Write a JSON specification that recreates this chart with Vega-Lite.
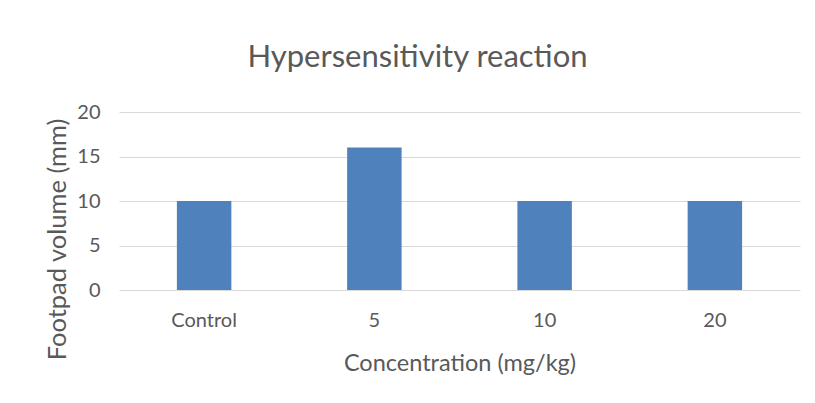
{
  "$schema": "https://vega.github.io/schema/vega-lite/v6.json",
  "autosize": "none",
  "width": 681,
  "height": 178,
  "padding": {"left": 119, "top": 112, "right": 15, "bottom": 113},
  "background": "white",
  "title": {
    "text": "Hypersensitivity reaction",
    "font": "Lato",
    "fontSize": 31,
    "fontWeight": "normal",
    "color": "#595959",
    "anchor": "middle",
    "frame": "group",
    "baseline": "alphabetic",
    "dx": -42,
    "offset": 4
  },
  "data": {
    "values": [
      {"concentration": "Control", "volume": 10},
      {"concentration": "5", "volume": 16},
      {"concentration": "10", "volume": 10},
      {"concentration": "20", "volume": 10}
    ]
  },
  "mark": {"type": "bar", "color": "#4F81BD"},
  "encoding": {
    "x": {
      "field": "concentration",
      "type": "nominal",
      "sort": null,
      "scale": {"paddingInner": 0.68, "paddingOuter": 0.34},
      "axis": {
        "title": "Concentration (mg/kg)",
        "labelAngle": 0,
        "domain": false,
        "ticks": false,
        "labelPadding": 20,
        "labelFont": "Lato",
        "labelFontSize": 20,
        "labelColor": "#595959",
        "titleFont": "Lato",
        "titleFontSize": 23.5,
        "titleFontWeight": "normal",
        "titleColor": "#595959",
        "titleBaseline": "middle",
        "titleY": 73
      }
    },
    "y": {
      "field": "volume",
      "type": "quantitative",
      "scale": {"domain": [0, 20]},
      "axis": {
        "title": "Footpad volume (mm)",
        "values": [0, 5, 10, 15, 20],
        "domain": false,
        "ticks": false,
        "grid": true,
        "gridColor": "#D9D9D9",
        "gridWidth": 1,
        "labelPadding": 19,
        "labelFont": "Lato",
        "labelFontSize": 20,
        "labelColor": "#595959",
        "titleFont": "Lato",
        "titleFontSize": 25.5,
        "titleFontWeight": "normal",
        "titleColor": "#595959",
        "titleAngle": -90,
        "titleAlign": "center",
        "titleBaseline": "middle",
        "titleX": -62,
        "titleY": 127
      }
    }
  },
  "config": {"view": {"stroke": null}}
}
